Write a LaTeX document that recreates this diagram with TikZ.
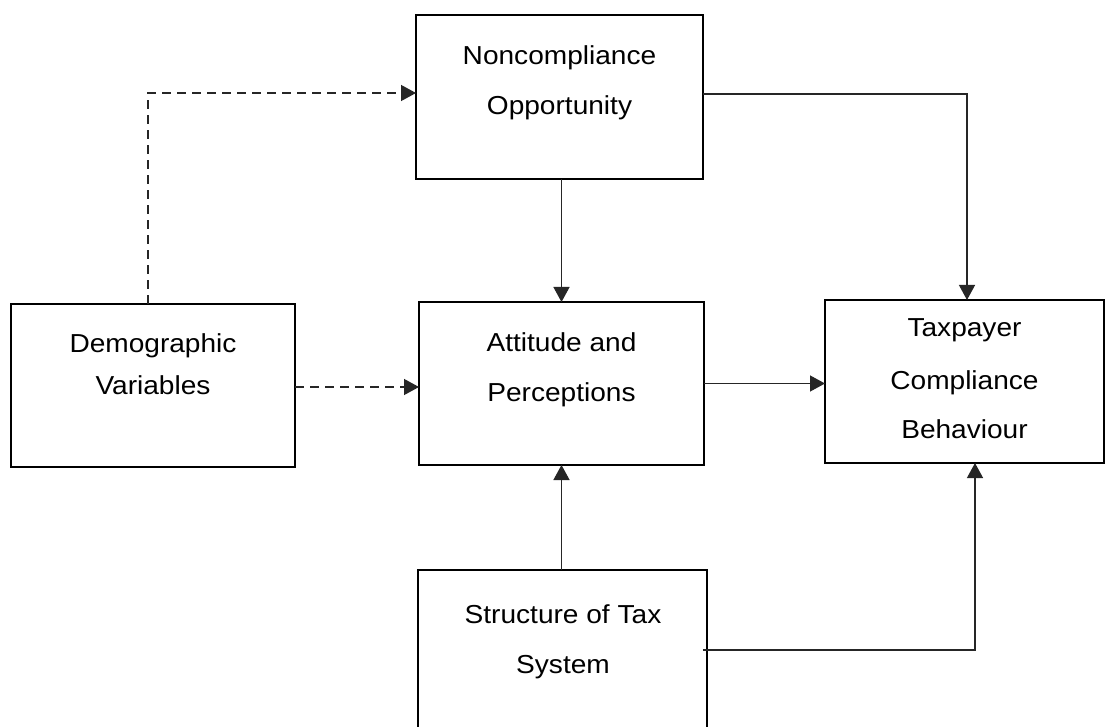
\documentclass[tikz,border=0pt]{standalone}
\usepackage{fontspec}
\setmainfont{Liberation Sans}[FakeStretch=1.08]
\usetikzlibrary{arrows.meta}
\begin{document}
\begin{tikzpicture}[x=1pt,y=-1pt,
  box/.style={draw, line width=2.8pt, inner sep=0pt, outer sep=0pt},
  txt/.style={anchor=base, inner sep=0pt, font=\fontsize{26}{30}\selectfont},
  conn/.style={line width=1.3pt, draw=black!85},
  arr/.style={conn, -{Triangle[length=15pt,width=16pt]}},
  darr/.style={arr, dash pattern=on 9pt off 6pt}]
\useasboundingbox (0,0) rectangle (1109,727);
\fill[white] (0,0) rectangle (1109,727);
% boxes
\node[box, minimum width=287pt, minimum height=164pt] (nc) at (559.5,97) {};
\node[box, minimum width=284pt, minimum height=163pt] (dem) at (153,385.5) {};
\node[box, minimum width=285pt, minimum height=163pt] (att) at (561.5,383.5) {};
\node[box, minimum width=279pt, minimum height=163pt] (tp) at (964.5,381.5) {};
\node[box, minimum width=289pt, minimum height=170pt] (st) at (562.5,655) {};
% texts
\node[txt] (nc1) at (559.5,65) {Noncompliance};
\node[txt] (nc2) at (559.5,115) {Opportunity};
\node[txt] (dem1) at (153,353) {Demographic};
\node[txt] (dem2) at (153,395) {Variables};
\node[txt] (att1) at (561.5,352) {Attitude and};
\node[txt] (att2) at (561.5,402) {Perceptions};
\node[txt] (tp1) at (964.5,337) {Taxpayer};
\node[txt] (tp2) at (964.5,389) {Compliance};
\node[txt] (tp3) at (964.5,438) {Behaviour};
\node[txt] (st1) at (563,623) {Structure of Tax};
\node[txt] (st2) at (563,673) {System};
% connectors
\draw[arr] (att.north |- nc.south) -- (att.north);
\draw[arr] (att.south |- st.north) -- (att.south);
\draw[arr] ([yshift=3pt]nc.east) -| ([xshift=2.5pt]tp.north);
\draw[arr] (att.east) -- (att.east -| tp.west);
\draw[darr] ([yshift=-1.5pt]dem.east) -- ([yshift=-1.5pt]dem.east -| att.west);
\draw[darr] ([xshift=-5pt]dem.north) |- ([yshift=4pt]nc.west);
\draw[arr] ([xshift=-4pt,yshift=5pt]st.east) -| ([xshift=10.5pt]tp.south);
\end{tikzpicture}
\end{document}
